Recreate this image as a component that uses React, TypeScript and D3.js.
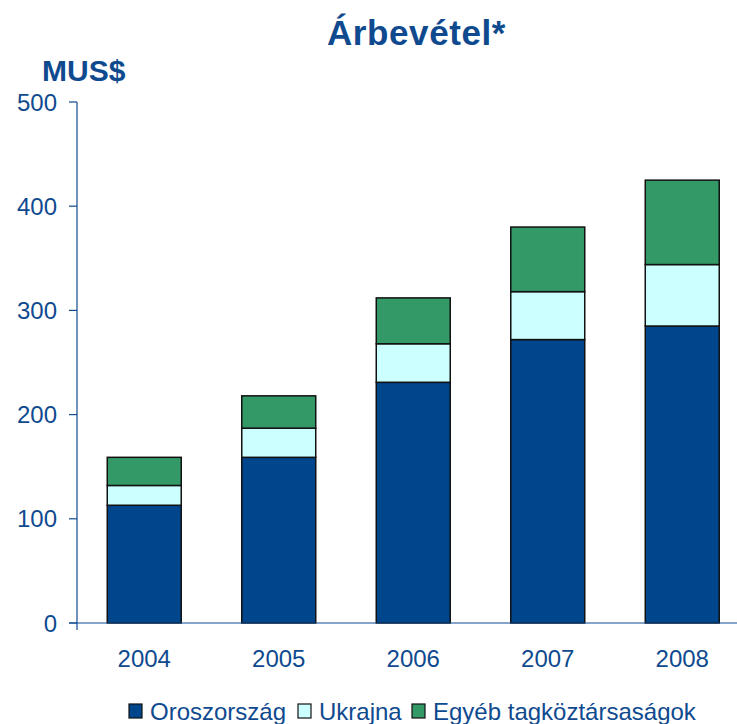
import React from "react";
import * as d3 from "d3";

const years = ["2004", "2005", "2006", "2007", "2008"];
const seriesNames = ["Oroszország", "Ukrajna", "Egyéb tagköztársaságok"];
const oroszorszag = [113, 159, 231, 272, 285];
const ukrajna = [19, 28, 37, 46, 59];
const egyeb = [27, 31, 44, 62, 81];
const yTicks = [0, 100, 200, 300, 400, 500];
const colors = ["#00468C", "#CCFFFF", "#339966"];
const textColor = "#0F4A8F";

const W = 737;
const H = 724;

export default function App() {
  const rows = years.map((y, i) => ({
    year: y,
    [seriesNames[0]]: oroszorszag[i],
    [seriesNames[1]]: ukrajna[i],
    [seriesNames[2]]: egyeb[i],
  }));
  const stack = d3.stack<any>().keys(seriesNames)(rows as any);

  const x = d3
    .scaleBand<string>()
    .domain(years)
    .range([77, 749.5])
    .paddingInner(0.45)
    .paddingOuter(0.225);
  const y = d3.scaleLinear().domain([0, 500]).range([623, 102]);

  const font = "'Liberation Sans', Arial, sans-serif";

  return (
    <svg
      width={W}
      height={H}
      style={{ position: "absolute", left: 0, top: 0 }}
      fontFamily={font}
    >
      <rect width={W} height={H} fill="#fff" />
      <text
        x={416.5}
        y={45}
        textAnchor="middle"
        fontSize={35}
        letterSpacing={0.6}
        fontWeight="bold"
        fill={textColor}
      >
        Árbevétel*
      </text>
      <text x={42} y={81} fontSize={30} fontWeight="bold" fill={textColor}>
        MUS$
      </text>

      {stack.map((s, si) =>
        s.map((d, i) => (
          <rect
            key={si + "-" + i}
            x={x(years[i])}
            y={y(d[1])}
            width={x.bandwidth()}
            height={y(d[0]) - y(d[1])}
            fill={colors[si]}
            stroke="#111"
            strokeWidth={1.5}
          />
        ))
      )}

      {/* y axis */}
      <line x1={77} x2={77} y1={102} y2={630} stroke={textColor} strokeWidth={1.2} />
      {yTicks.map((t) => (
        <g key={t}>
          <line x1={69} x2={77} y1={y(t)} y2={y(t)} stroke={textColor} strokeWidth={1.2} />
          <text
            x={57}
            y={y(t)}
            textAnchor="end"
            dominantBaseline="central"
            fontSize={24}
            fill={textColor}
          >
            {t}
          </text>
        </g>
      ))}
      {/* x axis */}
      <line x1={69} x2={W} y1={623} y2={623} stroke={textColor} strokeWidth={1.2} />
      {years.map((yr) => (
        <text
          key={yr}
          x={(x(yr) as number) + x.bandwidth() / 2}
          y={667}
          textAnchor="middle"
          fontSize={24}
          fill={textColor}
        >
          {yr}
        </text>
      ))}

      {/* legend */}
      {(() => {
        const starts = [129, 298, 412];
        return seriesNames.map((n, i) => (
          <g key={n}>
            <rect x={starts[i]} y={704} width={13} height={14} fill={colors[i]} stroke="#111" strokeWidth={1.2} />
            <text x={starts[i] + 21} y={720} fontSize={24} fill={textColor}>
              {n}
            </text>
          </g>
        ));
      })()}
    </svg>
  );
}
